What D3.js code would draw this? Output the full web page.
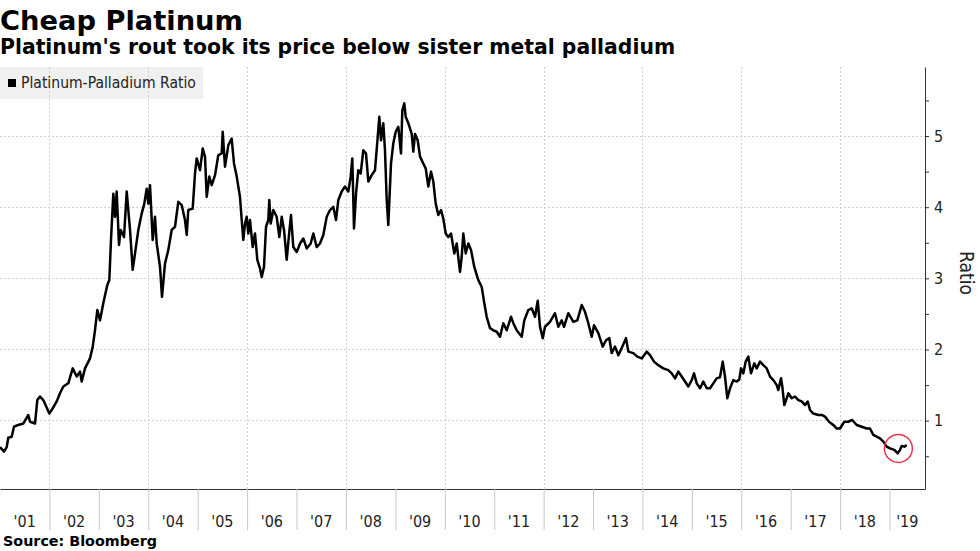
<!DOCTYPE html>
<html><head><meta charset="utf-8">
<script src="https://cdn.jsdelivr.net/npm/d3@7"></script>
<style>body{margin:0;background:#fff}svg{display:block}</style>
</head><body>
<svg id="chart" width="980" height="551"></svg>
<script>
// ---- data (decimal years, platinum/palladium price ratio) ----
const years = [
2001.000,2001.081,2001.136,2001.168,2001.237,2001.283,2001.370,2001.471,2001.573,2001.607,2001.708,2001.755,2001.809,2001.876,
2001.998,2002.046,2002.147,2002.214,2002.281,2002.382,2002.471,2002.552,2002.619,2002.653,2002.720,2002.821,2002.876,2002.922,2002.969,
2003.024,2003.090,2003.171,2003.212,2003.246,2003.293,2003.327,2003.361,2003.408,2003.442,2003.509,2003.564,2003.631,2003.685,2003.732,2003.799,2003.867,2003.920,2003.968,
2004.001,2004.035,2004.090,2004.136,2004.171,2004.238,2004.278,2004.339,2004.406,2004.474,2004.541,2004.608,2004.677,2004.743,
2004.778,2004.810,2004.899,2004.946,2004.980,2005.047,2005.102,2005.148,2005.183,2005.235,2005.284,2005.351,2005.417,2005.486,2005.506,2005.553,2005.620,2005.688,2005.735,2005.790,2005.856,2005.891,2005.923,2005.958,2005.992,
2006.024,2006.059,2006.113,2006.160,2006.207,2006.261,2006.296,2006.342,2006.383,2006.429,2006.449,2006.478,2006.530,2006.599,2006.652,2006.700,2006.747,2006.801,2006.854,2006.888,2006.935,
2007.004,2007.071,2007.137,2007.206,2007.287,2007.340,2007.408,2007.475,2007.542,2007.611,2007.678,2007.744,2007.799,2007.846,2007.914,2007.981,
2008.048,2008.096,2008.129,2008.163,2008.204,2008.250,2008.299,2008.351,2008.406,
2008.453,2008.521,2008.588,2008.643,2008.675,2008.710,2008.756,2008.790,2008.825,2008.857,2008.912,2008.958,
2009.007,2009.060,2009.114,2009.141,2009.181,2009.209,2009.262,2009.331,2009.363,2009.398,2009.452,2009.499,2009.565,2009.614,2009.667,2009.721,2009.768,2009.816,2009.869,2009.924,2009.970,
2010.019,2010.071,2010.126,2010.193,2010.241,2010.308,2010.342,2010.375,2010.423,2010.476,2010.531,2010.597,2010.678,2010.747,2010.800,2010.848,2010.915,2010.982,
2011.051,2011.118,2011.184,2011.253,2011.340,2011.387,2011.455,2011.557,2011.609,2011.690,2011.759,2011.826,2011.881,2011.927,2011.982,2012.028,
2012.129,2012.230,2012.297,2012.366,2012.413,2012.500,2012.601,2012.682,2012.771,2012.837,2012.904,2012.973,
2013.020,2013.107,2013.195,2013.262,2013.329,2013.377,2013.445,2013.512,2013.580,2013.667,2013.714,2013.815,2013.896,2013.985,
2014.086,2014.153,2014.234,2014.321,2014.422,2014.523,2014.592,2014.659,2014.726,2014.794,2014.861,2014.928,2014.997,
2015.043,2015.098,2015.165,2015.231,2015.300,2015.367,2015.434,2015.502,2015.569,2015.624,2015.670,2015.717,2015.772,2015.838,2015.907,2015.960,2015.994,
2016.041,2016.089,2016.142,2016.196,2016.263,2016.312,2016.379,2016.446,2016.514,2016.581,2016.648,2016.717,2016.749,2016.804,2016.830,2016.870,2016.919,2016.951,
2017.020,2017.087,2017.154,2017.222,2017.289,2017.344,2017.390,2017.457,2017.558,2017.627,2017.694,2017.775,2017.862,2017.931,2017.997,
2018.084,2018.165,2018.246,2018.335,2018.436,2018.537,2018.604,2018.671,2018.740,2018.807,2018.874,2018.942,
2019.009,2019.096,2019.165,2019.212,2019.246,2019.299,2019.347
];
const ratio = [
0.63,0.565,0.63,0.76,0.775,0.915,0.94,0.96,1.08,0.985,0.96,1.29,1.34,1.29,
1.10,1.15,1.27,1.385,1.48,1.525,1.735,1.62,1.69,1.55,1.735,1.875,2.04,2.27,2.555,
2.41,2.65,2.905,2.976,3.54,4.19,3.865,4.22,3.47,3.68,3.58,4.22,3.68,3.12,3.35,3.68,3.91,4.05,4.26,
4.05,4.31,3.54,3.865,3.49,3.16,2.74,3.21,3.40,3.68,3.725,4.075,4.03,3.82,
3.61,3.96,3.98,4.475,4.685,4.52,4.825,4.71,4.145,4.43,4.31,4.45,4.73,4.755,5.06,4.57,4.87,4.965,4.615,4.43,4.145,3.82,3.54,3.77,3.865,
3.63,3.82,3.44,3.63,3.26,3.14,3.02,3.16,3.725,3.82,4.10,3.77,3.96,3.865,3.58,3.865,3.68,3.26,3.655,3.89,3.44,
3.37,3.49,3.56,3.42,3.49,3.63,3.44,3.49,3.61,3.865,3.96,4.005,3.82,4.10,4.22,4.29,
4.22,4.43,4.685,3.70,4.19,4.52,4.475,4.80,4.755,
4.36,4.45,4.52,4.99,5.27,4.94,5.18,4.80,4.10,3.75,4.615,4.895,
5.06,5.13,4.755,5.36,5.46,5.27,5.18,5.03,4.78,5.03,4.94,4.71,4.615,4.545,4.29,4.50,4.36,4.05,3.89,3.96,3.84,
3.63,3.58,3.63,3.35,3.49,3.09,3.30,3.63,3.35,3.49,3.40,3.16,2.976,2.88,2.65,2.46,2.30,2.27,
2.25,2.18,2.37,2.27,2.46,2.37,2.27,2.18,2.41,2.555,2.58,2.46,2.685,2.32,2.16,2.32,
2.39,2.51,2.32,2.41,2.32,2.51,2.39,2.41,2.625,2.53,2.37,2.18,
2.34,2.23,2.04,2.13,2.16,1.95,2.04,1.92,2.02,2.16,1.97,1.95,1.90,1.875,
1.97,1.92,1.83,1.78,1.735,1.71,1.665,1.595,1.69,1.62,1.55,1.48,1.57,
1.665,1.525,1.455,1.55,1.455,1.455,1.525,1.595,1.61,1.83,1.62,1.315,1.455,1.57,1.55,1.58,1.735,
1.665,1.83,1.90,1.665,1.805,1.735,1.83,1.78,1.735,1.62,1.57,1.50,1.43,1.595,1.48,1.22,1.315,1.385,
1.315,1.34,1.29,1.27,1.22,1.27,1.15,1.10,1.08,1.08,1.057,0.985,0.94,0.89,0.89,
0.985,0.985,1.01,0.94,0.915,0.89,0.89,0.80,0.775,0.75,0.705,0.635,
0.61,0.59,0.54,0.59,0.645,0.635,0.66
];
const yearTicks = d3.range(2001, 2020);
const yearLabels = ["'01","'02","'03","'04","'05","'06","'07","'08","'09","'10","'11","'12","'13","'14","'15","'16","'17","'18","'19"];
const gridYears = [2002,2004,2006,2008,2010,2012,2014,2016,2018];
const majorTicks = [1,2,3,4,5];
const minorTicks = [0.5,1.5,2.5,3.5,4.5,5.5];
const xDomain = [2001, 2019.717];
const yDomain = [0.04, 5.97];
const highlight = {year: 2019.178, value: 0.61};
const titleText = "Cheap Platinum";
const subtitleText = "Platinum's rout took its price below sister metal palladium";
const legendText = "Platinum-Palladium Ratio";
const sourceText = "Source: Bloomberg";
const axisTitle = "Ratio";

// ---- layout ----
const svg = d3.select("#chart");
const L = 0, R = 925, T = 67, B = 489;
const x = d3.scaleLinear().domain(xDomain).range([L, R]);
const y = d3.scaleLinear().domain(yDomain).range([B, T]);
const FONT = "'DejaVu Sans', Verdana, sans-serif";
const FONTC = "'DejaVu Sans Condensed', 'DejaVu Sans', sans-serif";

function fit(sel, target) {
  const w = sel.node().getComputedTextLength();
  const fs = parseFloat(sel.attr("font-size"));
  sel.attr("font-size", (fs * target / w).toFixed(2));
}

// legend box (drawn under gridlines)
svg.append("rect").attr("x", 0).attr("y", T).attr("width", 203).attr("height", 32).attr("fill", "#f0f0f0");

// gridlines
svg.append("g").selectAll("line").data(majorTicks).join("line")
  .attr("x1", L).attr("x2", R).attr("y1", d => y(d)).attr("y2", d => y(d))
  .attr("stroke", "#cfcfcf").attr("stroke-dasharray", "2,2").attr("shape-rendering", "crispEdges");
svg.append("g").selectAll("line").data(gridYears).join("line")
  .attr("x1", d => Math.round(x(d)) + 0.5).attr("x2", d => Math.round(x(d)) + 0.5).attr("y1", T).attr("y2", B)
  .attr("stroke", "#cfcfcf").attr("stroke-dasharray", "2,2");

// bottom axis: separators below axis line
const xAxis = d3.axisBottom(x).tickValues(yearTicks.slice(1)).tickSize(41).tickSizeOuter(0).tickFormat("");
const gx = svg.append("g").attr("transform", `translate(0,${B})`).call(xAxis);
gx.select(".domain").attr("stroke", "#333");
gx.selectAll(".tick line").attr("stroke", "#c8c8c8");
svg.append("g").selectAll("text").data(yearTicks).join("text")
  .attr("x", (d) => (x(d) + Math.min(x(d + 1), R)) / 2)
  .attr("y", 527)
  .attr("text-anchor", "middle").attr("font-family", FONTC).attr("font-size", 16).attr("fill", "#222")
  .text((d, i) => yearLabels[i]);

// right axis
const yAxis = d3.axisRight(y).tickValues(majorTicks).tickSize(4).tickPadding(5).tickSizeOuter(0).tickFormat(d3.format("d"));
const gy = svg.append("g").attr("transform", `translate(${R},0)`).call(yAxis);
gy.select(".domain").attr("stroke", "#333");
gy.selectAll(".tick line").attr("stroke", "#333");
gy.selectAll(".tick text").attr("font-family", FONTC).attr("font-size", 16).attr("fill", "#222");
const yMinor = d3.axisRight(y).tickValues(minorTicks).tickSize(4).tickFormat("").tickSizeOuter(0);
const gym = svg.append("g").attr("transform", `translate(${R},0)`).call(yMinor);
gym.select(".domain").remove();
gym.selectAll(".tick line").attr("stroke", "#333");
svg.append("text").attr("transform", `translate(960,${(T + B) / 2 - 5}) rotate(90)`)
  .attr("text-anchor", "middle").attr("font-family", FONTC).attr("font-size", 19).attr("fill", "#222").text(axisTitle);

// line
const pts = years.map((d, i) => [d, ratio[i]]);
svg.append("path").datum(pts)
  .attr("d", d3.line().x(d => x(d[0])).y(d => y(d[1])))
  .attr("fill", "none").attr("stroke", "#000").attr("stroke-width", 2.5).attr("stroke-linejoin", "round");

// highlight circle
svg.append("circle").attr("cx", x(highlight.year)).attr("cy", y(highlight.value)).attr("r", 14)
  .attr("fill", "none").attr("stroke", "#e8344e").attr("stroke-width", 1.5);

// legend content
svg.append("rect").attr("x", 8).attr("y", 79).attr("width", 8).attr("height", 8).attr("fill", "#000");
const lg = svg.append("text").attr("x", 21).attr("y", 88).attr("font-family", FONTC).attr("font-size", 14).attr("fill", "#222").text(legendText);
fit(lg, 175);

// titles
const t1 = svg.append("text").attr("x", 0).attr("y", 30).attr("font-family", FONT).attr("font-weight", "bold").attr("font-size", 27).attr("fill", "#000").text(titleText);
fit(t1, 243);
const t2 = svg.append("text").attr("x", 0).attr("y", 54).attr("font-family", FONT).attr("font-weight", "bold").attr("font-size", 19).attr("fill", "#000").text(subtitleText);
fit(t2, 675);
const src = svg.append("text").attr("x", 3).attr("y", 546).attr("font-family", FONT).attr("font-weight", "bold").attr("font-size", 13).attr("fill", "#000").text(sourceText);
fit(src, 154);
</script>
</body></html>
